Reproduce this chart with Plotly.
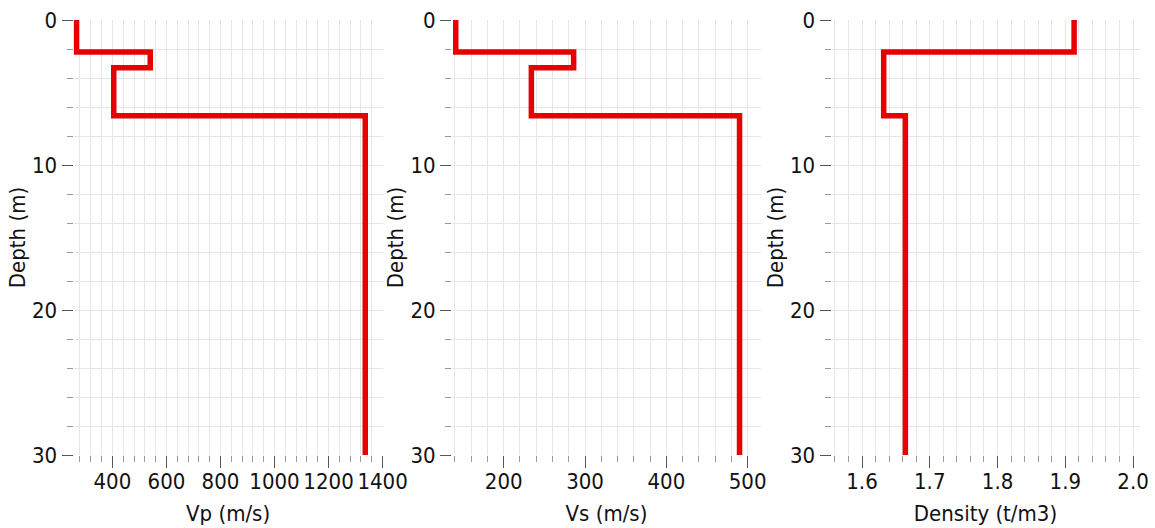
import plotly.graph_objects as go

# Layer data (depth of layer tops, bottom of profile)
layer_top = [0, 2.2, 3.3, 6.6]
bottom_depth = 30
vp = [267, 540, 405, 1336]
vs = [141, 286, 234, 490]
density = [1.913, 1.632, 1.632, 1.664]

x_titles = ["Vp (m/s)", "Vs (m/s)", "Density (t/m3)"]
y_title = "Depth (m)"

FONT = "DejaVu Sans Condensed, Liberation Sans Narrow, DejaVu Sans"
RED = "#e60000"
GRID = "#e6e6e6"


def step(vals):
    xs, ys = [], []
    tops = layer_top + [bottom_depth]
    for i, v in enumerate(vals):
        xs += [v, v]
        ys += [tops[i], tops[i + 1]]
    return xs, ys


fig = go.Figure()
series = [vp, vs, density]
for i, s in enumerate(series):
    xs, ys = step(s)
    fig.add_trace(go.Scatter(
        x=xs, y=ys, mode="lines",
        line=dict(color=RED, width=5.5),
        xaxis="x" if i == 0 else f"x{i+1}",
        yaxis="y" if i == 0 else f"y{i+1}",
        showlegend=False, hoverinfo="skip",
    ))

W, H = 1155, 528
xdoms_px = [(73.5, 382.7), (452.0, 761.0), (831.5, 1139.5)]
ydom = [(H - 455) / H, (H - 20) / H]
xranges = [[256, 1400.5], [136.4, 516.4], [1.555, 2.0095]]
dticks = [200, 100, 0.1]
minor_dticks = [40, 20, 0.02]
tfmt = ["d", "d", ".1f"]
FS = 22

layout = dict(
    width=W, height=H,
    margin=dict(l=0, r=0, t=0, b=0),
    plot_bgcolor="white", paper_bgcolor="white",
    font=dict(family=FONT, size=FS, color="#111111"),
)
for i in range(3):
    xa = "xaxis" if i == 0 else f"xaxis{i+1}"
    ya = "yaxis" if i == 0 else f"yaxis{i+1}"
    yref = "y" if i == 0 else f"y{i+1}"
    xref = "x" if i == 0 else f"x{i+1}"
    layout[xa] = dict(
        domain=[xdoms_px[i][0] / W, xdoms_px[i][1] / W],
        anchor=yref, range=xranges[i], tick0=0, dtick=dticks[i],
        tickformat=tfmt[i],
        ticks="outside", ticklen=12, tickcolor="#555555", tickwidth=1,
        ticklabelstandoff=-5,
        showgrid=True, gridcolor=GRID, gridwidth=1,
        zeroline=False, showline=False,
        minor=dict(dtick=minor_dticks[i], tick0=0, ticks="outside", ticklen=6,
                   tickcolor="#999999", showgrid=True, gridcolor=GRID),
        title=dict(text=x_titles[i], standoff=12, font=dict(size=FS)),
        tickfont=dict(size=FS),
        automargin=False,
    )
    layout[ya] = dict(
        domain=ydom, anchor=xref, range=[bottom_depth, 0],
        tick0=0, dtick=10,
        ticks="outside", ticklen=11, tickcolor="#555555", tickwidth=1,
        showgrid=True, gridcolor=GRID, gridwidth=1,
        zeroline=False, showline=False,
        minor=dict(dtick=2, ticks="outside", ticklen=6, tickcolor="#999999",
                   showgrid=True, gridcolor=GRID),
        title=dict(text=y_title, standoff=0, font=dict(size=FS)),
        tickfont=dict(size=FS),
        automargin=False,
    )

fig.update_layout(**layout)
fig.write_html("out.html")
